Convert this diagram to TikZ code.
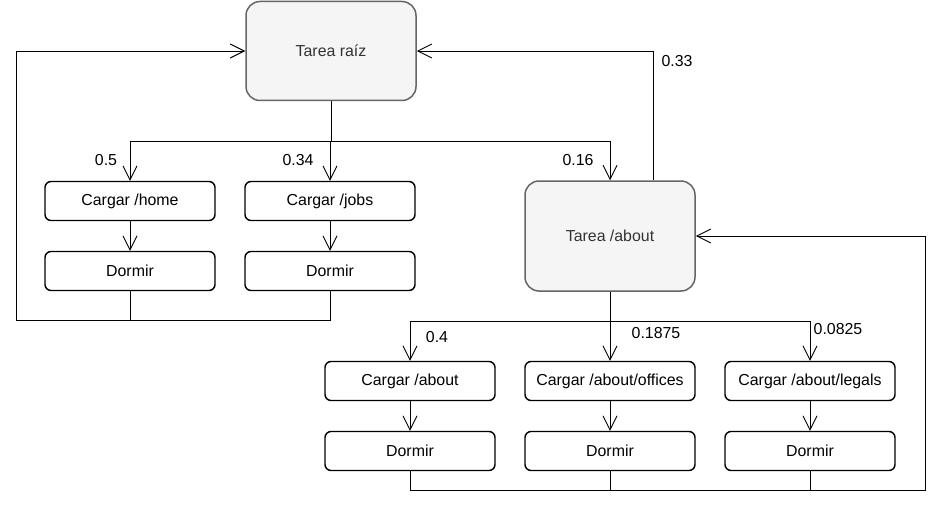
\documentclass[tikz,border=0pt]{standalone}
\usepackage{fontspec}
\setmainfont{Liberation Sans}
\usetikzlibrary{arrows.meta}
\definecolor{taskfill}{HTML}{F5F5F5}
\definecolor{taskline}{HTML}{666666}
\definecolor{tasktext}{HTML}{333333}
\begin{document}
\begin{tikzpicture}[x=1pt,y=-1pt,->,>={Straight Barb[length=14pt,width=14pt]},line width=0.9pt,
        font=\fontsize{15.9}{18}\selectfont,
        task node/.style={draw=taskline,fill=taskfill,text=tasktext,rounded corners=14pt,line width=1.5pt,minimum width=170pt,inner sep=0pt},
        page node/.style={draw,rounded corners=6pt,line width=1.4pt,minimum width=170pt,minimum height=39pt,inner sep=0pt},
        prob/.style={inner sep=0pt}]
        \useasboundingbox (0,0) rectangle (942,508);
        \node[task node, minimum height=99pt] (1) at (331,51) {Tarea raíz};
        \node[page node] (2) at (130,201) {Cargar /home};
        \node[page node] (3) at (130,271) {Dormir};
        \node[page node] (4) at (330,201) {Cargar /jobs};
        \node[page node] (5) at (330,271) {Dormir};
        \node[task node, minimum height=110pt] (6) at (610,236) {Tarea /about};
        \node[page node] (7) at (410,381) {Cargar /about};
        \node[page node] (8) at (410,451) {Dormir};
        \node[page node] (9) at (610,381) {Cargar /about/offices};
        \node[page node] (10) at (610,451) {Dormir};
        \node[page node] (11) at (810,381) {Cargar /about/legals};
        \node[page node] (12) at (810,451) {Dormir};
        \coordinate (j1) at (331,141);
        \coordinate (j2) at (610,321);
        \coordinate (back1) at (16,320);
        \coordinate (back2) at (925,490);
        % root task
        \draw[-] (1) -- (j1);
        \draw (j1) -| (2);
        \draw (j1) -| (4);
        \draw (j1) -| (6);
        \draw (2) -- (3);
        \draw (4) -- (5);
        \draw (3) |- (back1) |- (1);
        \draw[-] (5) |- (back1);
        \draw ([xshift=43pt]6.north) |- (1);
        % about task
        \draw[-] (6) -- (j2);
        \draw (j2) -| (7);
        \draw (j2) -| (9);
        \draw (j2) -| (11);
        \draw (7) -- (8);
        \draw (9) -- (10);
        \draw (11) -- (12);
        \draw (8) |- (back2) |- (6);
        \draw[-] (10) |- (back2);
        \draw[-] (12) |- (back2);
        \node[prob] (p1) at (106,160) {0.5};
        \node[prob] (p2) at (298,160) {0.34};
        \node[prob] (p3) at (578,160) {0.16};
        \node[prob] (p4) at (677,61) {0.33};
        \node[prob] (p5) at (437,337) {0.4};
        \node[prob] (p6) at (656,333) {0.1875};
        \node[prob] (p7) at (838,329) {0.0825};
    \end{tikzpicture}
\end{document}
